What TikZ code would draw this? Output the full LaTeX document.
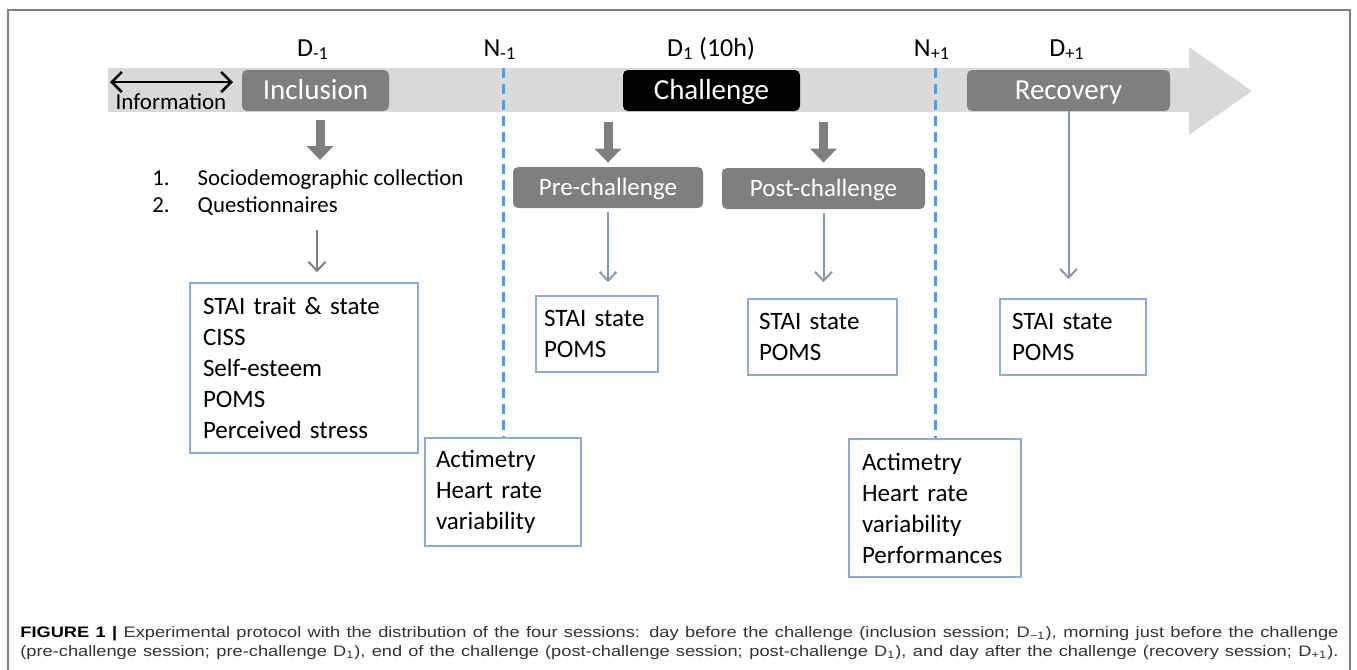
\documentclass[tikz,border=0pt]{standalone}
\usepackage{fontspec}
\setmainfont{Carlito}
\newfontfamily\capfont{Liberation Sans}[FakeStretch=1.2]
\usetikzlibrary{arrows.meta}
\definecolor{bandgray}{HTML}{D9D9D9}
\definecolor{boxgray}{HTML}{7F7F7F}
\definecolor{edgeblue}{HTML}{8EAADB}
\definecolor{arrowblue}{HTML}{8497B0}
\definecolor{nightblue}{HTML}{5B9BD5}
\definecolor{framegray}{HTML}{808080}
\begin{document}
\begin{tikzpicture}[x=0.5pt,y=-0.5pt,
    sessionbox/.style={fill=boxgray,text=white,rounded corners=2.5pt,
      minimum height=20.5pt,inner sep=0pt,text height=9.3pt,text depth=0pt,
      font=\fontsize{14.5}{16}\selectfont},
    subbox/.style={sessionbox,text height=8pt,font=\fontsize{12.5}{14}\selectfont},
    measurebox/.style={draw=edgeblue,line width=0.75pt,align=left,
      inner xsep=6pt,inner ysep=0pt,font=\fontsize{12.5}{15.5}\selectfont},
    daylabel/.style={anchor=base,inner sep=0pt,font=\fontsize{13}{14}\selectfont},
    bigarrow/.style={draw=boxgray,line width=4.5pt,-{Triangle[length=7pt,width=13pt]}},
    thinarrow/.style={draw=boxgray,line width=1pt,-{Straight Barb[length=4.5pt,width=8.5pt]}},
    bluearrow/.style={thinarrow,draw=arrowblue},
    infoarrow/.style={draw=black,line width=1.3pt,
      {Straight Barb[length=5pt,width=10pt]}-{Straight Barb[length=5pt,width=10pt]}},
    nightline/.style={draw=nightblue,line width=1.5pt,dash pattern=on 5pt off 3pt}]
  \useasboundingbox (0,0) rectangle (1357,670);
  % frame and time line
  \draw[framegray,line width=0.75pt] (8,670) -- (8,10) -- (1350,10) -- (1350,670);
  \fill[bandgray] (108,68) -- (1189,68) -- (1189,47) -- (1252,91)
    -- (1189,135) -- (1189,112) -- (108,112) -- cycle;

  % day and night labels
  \node[daylabel] (dm1) at (313,56) {D\textsubscript{-1}};
  \node[daylabel] (nm1lab) at (500,56) {N\textsubscript{-1}};
  \node[daylabel] (d1) at (711,56) {D\textsubscript{1} (10h)};
  \node[daylabel] (np1lab) at (932,56) {N\textsubscript{+1}};
  \node[daylabel] (dp1) at (1067,56) {D\textsubscript{+1}};

  % sessions
  \node[sessionbox,minimum width=73.5pt] (incl) at (315.5,90.5) {Inclusion};
  \node[sessionbox,fill=black,minimum width=88.5pt] (chal) at (711.5,90.5) {Challenge};
  \node[sessionbox,minimum width=101.5pt] (rec) at (1068.5,90.5) {Recovery};
  \node[subbox,minimum width=95pt] (pre) at (608,187.5) {Pre-challenge};
  \node[subbox,minimum width=101.5pt] (post) at (823.5,188.5) {Post-challenge};

  \coordinate (infoL) at (110,82);
  \coordinate (infoR) at (233,82);
  \draw[infoarrow] (infoL) -- (infoR);
  \node[font=\fontsize{11.5}{13}\selectfont,inner sep=0pt] (info) at (171,101.5) {Information};

  \node[anchor=west,inner sep=0pt,font=\fontsize{11.4}{13.5}\selectfont] (steps) at (152,194)
    {\begin{tabular}{@{}l@{\hspace{14pt}}l@{}}1. & Sociodemographic collection\\
      2. & Questionnaires\end{tabular}};

  % measures
  \node[measurebox,text width=101pt,inner xsep=6.5pt,minimum height=85pt] (base) at (304,368)
    {STAI trait \& state\\CISS\\Self-esteem\\POMS\\Perceived stress};
  \node[measurebox,text width=53pt,inner xsep=4pt,minimum height=38pt] (preS) at (597,334)
    {STAI state\\POMS};
  \node[measurebox,text width=63.5pt,inner xsep=5.5pt,minimum height=38pt] (postS) at (822.5,337)
    {STAI state\\POMS};
  \node[measurebox,text width=61pt,minimum height=38pt] (recS) at (1073,337)
    {STAI state\\POMS};
  \node[measurebox,text width=67pt,inner xsep=5.5pt,minimum height=54pt] (actL) at (503,492)
    {Actimetry\\Heart rate\\variability};
  \node[measurebox,text width=73pt,inner xsep=6.5pt,minimum height=69pt] (actR) at (935,508)
    {Actimetry\\Heart rate\\variability\\Performances};

  % arrows
  \coordinate (inclend) at (320,160);
  \coordinate (qtop) at (317,230);
  \coordinate (nm1) at (503,68);
  \coordinate (np1) at (935,68);
  \draw[bigarrow,shorten <=4.5pt] (inclend |- incl.south) -- (inclend);
  \draw[thinarrow,shorten >=5pt] (qtop) -- (qtop |- base.north);
  \draw[bigarrow,shorten <=5.5pt,shorten >=2pt] (pre.north |- chal.south) -- (pre.north);
  \draw[bigarrow,shorten <=5.5pt,shorten >=2.5pt] (post.north |- chal.south) -- (post.north);
  \draw[bluearrow,shorten <=2pt,shorten >=6.5pt] (pre.south) -- (pre.south |- preS.north);
  \draw[bluearrow,shorten <=2pt,shorten >=8pt] (post.south) -- (post.south |- postS.north);
  \draw[bluearrow,shorten >=9.5pt] (rec.south) -- (rec.south |- recS.north);
  \draw[nightline] (nm1) -- (nm1 |- actL.north);
  \draw[nightline] (np1) -- (np1 |- actR.north);

  % caption
  \node[anchor=north west,inner sep=0pt,align=left,text=black!80,
    font=\capfont\fontsize{7.6}{9.5}\selectfont] (caption) at (20,626)
    {\makebox[659pt][s]{\textcolor{black}{\textbf{FIGURE 1 |}} Experimental protocol with the
    distribution of the four sessions: day before the challenge (inclusion session;
    D\textsubscript{−1}), morning just before the challenge}\\
    \makebox[659pt][s]{(pre-challenge session; pre-challenge D\textsubscript{1}), end of the challenge
    (post-challenge session; post-challenge D\textsubscript{1}), and day after the challenge
    (recovery session; D\textsubscript{+1}).}};
\end{tikzpicture}
\end{document}
